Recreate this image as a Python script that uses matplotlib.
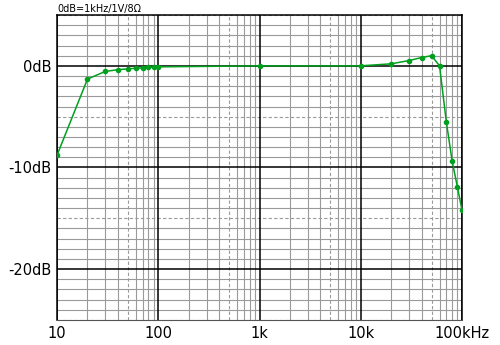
import matplotlib
matplotlib.use("Agg")
import matplotlib.pyplot as plt
import numpy as np

# frequency response
freq = [10, 20, 30, 40, 50, 60, 70, 80, 90, 100, 1000, 10000,
        20000, 30000, 40000, 50000, 60000, 70000, 80000, 90000, 100000]
level = [-8.8, -1.3, -0.55, -0.38, -0.3, -0.23, -0.2, -0.15, -0.12, -0.1, 0.0, 0.0,
         0.2, 0.52, 0.82, 1.0, 0.0, -5.5, -9.4, -11.9, -14.2]
xticks = [10, 100, 1000, 10000, 100000]
xlabels = ["10", "100", "1k", "10k", "100kHz"]
yticks = [0, -10, -20]
ylabels = ["0dB", "-10dB", "-20dB"]
title = "0dB=1kHz/1V/8\u03a9"

fig = plt.figure(figsize=(5, 3.45), dpi=100)
ax = fig.add_axes([0.114, 0.0725, 0.81, 0.884])
ax.set_xscale("log")
ax.set_xlim(10, 100000)
ax.set_ylim(-25, 5)

grey = "#9a9a9a"
# minor grid
for dec in [10, 100, 1000, 10000]:
    for m in [2, 3, 4, 6, 7, 8, 9]:
        ax.axvline(dec * m, color=grey, lw=0.8, zorder=1)
    ax.axvline(dec * 5, color=grey, lw=0.8, ls=(0, (3, 2)), zorder=1)
for d in range(-25, 6):
    if d % 10 == 0:
        ax.axhline(d, color="black", lw=1.1, zorder=2)
    elif d % 5 == 0:
        ax.axhline(d, color=grey, lw=0.8, ls=(0, (3, 2)), zorder=1)
    else:
        ax.axhline(d, color=grey, lw=0.8, zorder=1)
for x in xticks:
    ax.axvline(x, color="black", lw=1.1, zorder=2)

ax.plot(freq, level, color="#00a01e", lw=1.1, marker="o", ms=3, zorder=3)

ax.set_xticks(xticks)
ax.set_xticklabels(xlabels, fontsize=10.5)
ax.set_yticks(yticks)
ax.set_yticklabels(ylabels, fontsize=10.5)
ax.minorticks_off()
ax.tick_params(length=0, pad=4)
for s in ["left", "top", "right"]:
    ax.spines[s].set_color("black")
    ax.spines[s].set_linewidth(1.1)
ax.spines["bottom"].set_color("#555555")
ax.spines["bottom"].set_linestyle((0, (2, 1)))

fig.text(0.114, 0.975, title, fontsize=7, ha="left", va="center")

fig.savefig("out.png", dpi=100)
